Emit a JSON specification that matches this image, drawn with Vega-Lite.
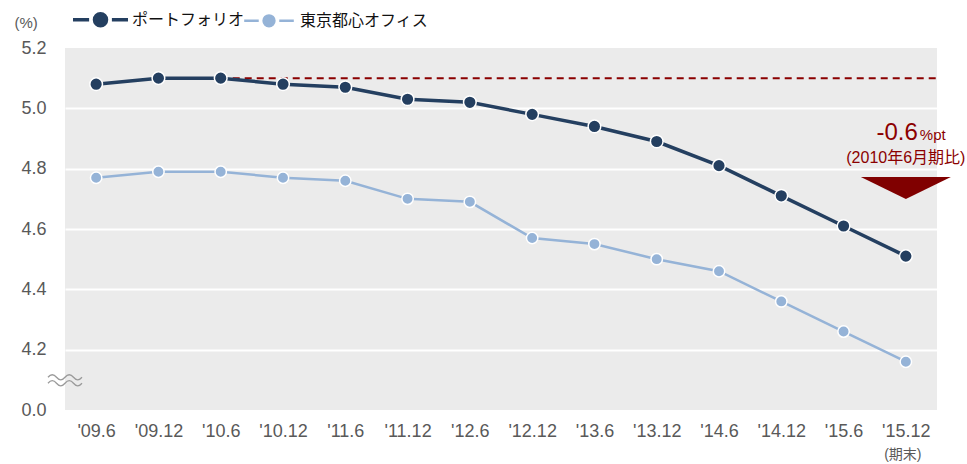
{
  "$schema": "https://vega.github.io/schema/vega-lite/v6.json",
  "width": 872,
  "height": 362,
  "autosize": {"type": "none"},
  "padding": {"left": 65, "top": 48, "right": 30, "bottom": 54},
  "background": "white",
  "config": {
    "view": {"fill": "#EBEBEB", "stroke": null},
    "font": "Liberation Sans",
    "legend": {
      "orient": "none", "legendX": 27, "legendY": -37, "direction": "horizontal",
      "symbolType": "M-4.35,0H-1.8M1.8,0H4.35M-0.95,0A0.95,0.95 0 1,0 0.95,0A0.95,0.95 0 1,0 -0.95,0Z",
      "symbolSize": 324, "symbolStrokeWidth": 3,
      "labelFont": "Noto Sans CJK JP", "labelFontSize": 16, "labelColor": "#111111",
      "labelOffset": 23, "columnPadding": -6
    }
  },
  "datasets": {
    "series": [
      {"idx": 0, "period": "'09.6", "series": "ポートフォリオ", "value": 5.08},
      {"idx": 1, "period": "'09.12", "series": "ポートフォリオ", "value": 5.10},
      {"idx": 2, "period": "'10.6", "series": "ポートフォリオ", "value": 5.10},
      {"idx": 3, "period": "'10.12", "series": "ポートフォリオ", "value": 5.08},
      {"idx": 4, "period": "'11.6", "series": "ポートフォリオ", "value": 5.07},
      {"idx": 5, "period": "'11.12", "series": "ポートフォリオ", "value": 5.03},
      {"idx": 6, "period": "'12.6", "series": "ポートフォリオ", "value": 5.02},
      {"idx": 7, "period": "'12.12", "series": "ポートフォリオ", "value": 4.98},
      {"idx": 8, "period": "'13.6", "series": "ポートフォリオ", "value": 4.94},
      {"idx": 9, "period": "'13.12", "series": "ポートフォリオ", "value": 4.89},
      {"idx": 10, "period": "'14.6", "series": "ポートフォリオ", "value": 4.81},
      {"idx": 11, "period": "'14.12", "series": "ポートフォリオ", "value": 4.71},
      {"idx": 12, "period": "'15.6", "series": "ポートフォリオ", "value": 4.61},
      {"idx": 13, "period": "'15.12", "series": "ポートフォリオ", "value": 4.51},
      {"idx": 0, "period": "'09.6", "series": "東京都心オフィス", "value": 4.77},
      {"idx": 1, "period": "'09.12", "series": "東京都心オフィス", "value": 4.79},
      {"idx": 2, "period": "'10.6", "series": "東京都心オフィス", "value": 4.79},
      {"idx": 3, "period": "'10.12", "series": "東京都心オフィス", "value": 4.77},
      {"idx": 4, "period": "'11.6", "series": "東京都心オフィス", "value": 4.76},
      {"idx": 5, "period": "'11.12", "series": "東京都心オフィス", "value": 4.70},
      {"idx": 6, "period": "'12.6", "series": "東京都心オフィス", "value": 4.69},
      {"idx": 7, "period": "'12.12", "series": "東京都心オフィス", "value": 4.57},
      {"idx": 8, "period": "'13.6", "series": "東京都心オフィス", "value": 4.55},
      {"idx": 9, "period": "'13.12", "series": "東京都心オフィス", "value": 4.50},
      {"idx": 10, "period": "'14.6", "series": "東京都心オフィス", "value": 4.46},
      {"idx": 11, "period": "'14.12", "series": "東京都心オフィス", "value": 4.36},
      {"idx": 12, "period": "'15.6", "series": "東京都心オフィス", "value": 4.26},
      {"idx": 13, "period": "'15.12", "series": "東京都心オフィス", "value": 4.16}
    ],
    "ref": [{"idx": 2, "idx2": 13.5, "value": 5.1}],
    "big": [{"idx": 13, "value": 4.895, "text": "-0.6"}],
    "unit": [{"idx": 13, "value": 4.895, "text": "%pt"}],
    "sub": [{"idx": 13, "value": 4.819, "text": "(2010年6月期比)"}],
    "tri": [{"idx": 13, "value": 4.736}],
    "brk": [{"idx": -0.5, "value": 4.1}],
    "end": [{"idx": 13, "value": 4.0, "text": "(期末)"}]
  },
  "layer": [
    {
      "data": {"name": "ref"},
      "mark": {"type": "rule", "color": "#8B0000", "strokeWidth": 2, "strokeDash": [7, 5]},
      "encoding": {
        "x": {"field": "idx", "type": "quantitative", "title": null},
        "x2": {"field": "idx2"},
        "y": {"field": "value", "type": "quantitative", "title": "(%)"}
      }
    },
    {
      "data": {"name": "series"},
      "mark": {"type": "line"},
      "encoding": {
        "x": {
          "field": "idx", "type": "quantitative", "title": null,
          "scale": {"domain": [-0.5, 13.5], "nice": false, "zero": false},
          "axis": {
            "values": [0, 1, 2, 3, 4, 5, 6, 7, 8, 9, 10, 11, 12, 13],
            "labelExpr": "[\"'09.6\", \"'09.12\", \"'10.6\", \"'10.12\", \"'11.6\", \"'11.12\", \"'12.6\", \"'12.12\", \"'13.6\", \"'13.12\", \"'14.6\", \"'14.12\", \"'15.6\", \"'15.12\"][datum.value]",
            "grid": false, "domain": false, "ticks": false,
            "labelPadding": 12, "labelFontSize": 18, "labelColor": "#595959",
            "labelFlush": false, "labelOverlap": false
          }
        },
        "y": {
          "field": "value", "type": "quantitative", "title": "(%)",
          "scale": {"domain": [4.0, 5.2], "nice": false, "zero": false},
          "axis": {
            "values": [4.0, 4.2, 4.4, 4.6, 4.8, 5.0, 5.2],
            "labelExpr": "datum.value < 4.1 ? '0.0' : format(datum.value, '.1f')",
            "grid": true,
            "gridColor": {"condition": {"test": "datum.value < 4.1 || datum.value > 5.1", "value": "transparent"}, "value": "white"},
            "gridWidth": 2, "domain": false, "ticks": false,
            "labelPadding": 19, "labelFontSize": 18, "labelColor": "#595959",
            "titleAngle": 0, "titleAlign": "left", "titleBaseline": "middle",
            "titleX": -51, "titleY": -26, "titleFontSize": 15, "titleFontWeight": "normal",
            "titleColor": "#595959"
          }
        },
        "color": {
          "field": "series", "type": "nominal",
          "scale": {"domain": ["ポートフォリオ", "東京都心オフィス"], "range": ["#243F60", "#95B3D7"]},
          "legend": {
            "title": null,
            "encode": {"symbols": {"update": {
              "fill": {"scale": "color", "field": "value"},
              "stroke": {"scale": "color", "field": "value"},
              "strokeWidth": {"value": 3},
              "opacity": {"value": 1}
            }}}
          }
        },
        "strokeWidth": {
          "field": "series", "type": "nominal",
          "scale": {"domain": ["ポートフォリオ", "東京都心オフィス"], "range": [3.5, 2.5]},
          "legend": null
        }
      }
    },
    {
      "data": {"name": "series"},
      "mark": {"type": "point", "filled": true, "opacity": 1, "stroke": "white", "strokeWidth": 1.5},
      "encoding": {
        "x": {"field": "idx", "type": "quantitative", "title": null},
        "y": {"field": "value", "type": "quantitative", "title": "(%)"},
        "color": {
          "field": "series", "type": "nominal",
          "legend": {
            "title": null,
            "encode": {"symbols": {"update": {
              "fill": {"scale": "color", "field": "value"},
              "stroke": {"scale": "color", "field": "value"},
              "strokeWidth": {"value": 3},
              "opacity": {"value": 1}
            }}}
          }
        },
        "size": {
          "field": "series", "type": "nominal",
          "scale": {"domain": ["ポートフォリオ", "東京都心オフィス"], "range": [160, 130]},
          "legend": null
        }
      }
    },
    {
      "data": {"name": "big"},
      "mark": {"type": "text", "align": "right", "baseline": "alphabetic", "dx": 12, "fontSize": 24, "color": "#8B0000"},
      "encoding": {
        "x": {"field": "idx", "type": "quantitative", "title": null},
        "y": {"field": "value", "type": "quantitative", "title": "(%)"},
        "text": {"field": "text"}
      }
    },
    {
      "data": {"name": "unit"},
      "mark": {"type": "text", "align": "left", "baseline": "alphabetic", "dx": 14, "fontSize": 15, "color": "#8B0000"},
      "encoding": {
        "x": {"field": "idx", "type": "quantitative", "title": null},
        "y": {"field": "value", "type": "quantitative", "title": "(%)"},
        "text": {"field": "text"}
      }
    },
    {
      "data": {"name": "sub"},
      "mark": {"type": "text", "align": "center", "baseline": "alphabetic", "fontSize": 16, "color": "#8B0000", "font": "Liberation Sans, Noto Sans CJK JP"},
      "encoding": {
        "x": {"field": "idx", "type": "quantitative", "title": null},
        "y": {"field": "value", "type": "quantitative", "title": "(%)"},
        "text": {"field": "text"}
      }
    },
    {
      "data": {"name": "tri"},
      "mark": {"type": "point", "filled": true, "opacity": 1, "color": "#800000", "shape": "M-1,-0.244L1,-0.244L0,0.244Z", "size": 8100},
      "encoding": {
        "x": {"field": "idx", "type": "quantitative", "title": null},
        "y": {"field": "value", "type": "quantitative", "title": "(%)"}
      }
    },
    {
      "data": {"name": "brk"},
      "mark": {"type": "point", "filled": false, "opacity": 1, "stroke": "#9A9A9A", "strokeWidth": 1.3, "shape": "M-1,-0.15Q-0.75,-0.45 -0.5,-0.15T0,-0.15T0.5,-0.15T1,-0.15M-1,0.2Q-0.75,-0.1 -0.5,0.2T0,0.2T0.5,0.2T1,0.2", "size": 1156},
      "encoding": {
        "x": {"field": "idx", "type": "quantitative", "title": null},
        "y": {"field": "value", "type": "quantitative", "title": "(%)"}
      }
    },
    {
      "data": {"name": "end"},
      "mark": {"type": "text", "align": "center", "baseline": "alphabetic", "dx": -3, "dy": 49, "fontSize": 14, "color": "#595959", "font": "Liberation Sans, Noto Sans CJK JP"},
      "encoding": {
        "x": {"field": "idx", "type": "quantitative", "title": null},
        "y": {"field": "value", "type": "quantitative", "title": "(%)"},
        "text": {"field": "text"}
      }
    }
  ]
}
